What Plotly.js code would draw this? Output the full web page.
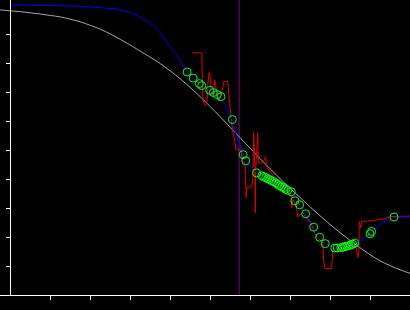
<!DOCTYPE html>
<html>
<head>
<meta charset="utf-8">
<script src="https://cdn.plot.ly/plotly-3.0.1.min.js"></script>
<style>
html,body{margin:0;padding:0;background:#000;}
#chart{width:410px;height:310px;}
</style>
</head>
<body>
<div id="chart"></div>
<script>
// Smooth reference curve (gray)
const grayX = [-0.3,-0.25,0,0.25,0.5,0.75,1,1.25,1.5,1.75,2,2.25,2.5,2.75,3,3.25,3.75,4.25,4.75,5.25,5.75,6.25,6.75,7.25,7.75,8.25,8.75,9.25,9.75,10];
const grayY = [9.84,9.83,9.80,9.77,9.73,9.69,9.64,9.59,9.51,9.42,9.30,9.17,9.00,8.82,8.62,8.41,7.98,7.46,6.84,6.15,5.42,4.70,4.01,3.36,2.73,2.15,1.63,1.18,0.87,0.75];

// Fitted curve (blue)
const blueX = [0,1.24,1.49,2.04,2.32,2.67,2.82,3.0,3.24,3.49,3.74,3.99,4.24,4.42,4.57,4.74,4.99,5.17,5.27,5.39,5.54,5.67,5.82,5.89,6.04,6.17,6.37,6.62,6.87,7.02,7.14,7.24,7.39,7.59,7.74,7.89,8.12,8.37,8.49,8.67,8.87,9.02,9.24,9.49,9.74,10];
const blueY = [10.0,9.99,9.97,9.93,9.90,9.86,9.80,9.75,9.60,9.39,9.05,8.60,8.11,7.70,7.49,7.25,7.06,6.91,6.80,6.53,6.05,5.42,4.84,4.63,4.39,4.22,4.05,3.87,3.67,3.53,3.25,3.11,2.80,2.36,2.01,1.77,1.63,1.63,1.70,1.80,1.98,2.15,2.42,2.65,2.69,2.69];

// Raw signal (red)
const redX = [4.54,4.79,4.805,4.82,4.87,4.92,4.94,4.97,4.99,5.02,5.04,5.09,5.115,5.14,5.17,5.22,5.27,5.32,5.34,5.44,5.47,5.49,5.52,5.54,5.57,5.62,5.64,5.77,5.79,5.805,5.87,5.89,5.905,5.92,6.04,6.07,6.09,6.12,6.13,6.14,6.17,6.19,6.205,6.22,6.32,6.37,6.39,6.42,6.47,6.54,6.62,6.69,6.74,6.82,6.89,6.97,7.02,7.04,7.07,7.12,7.17,7.19,7.27,7.32,7.39,7.44,7.52,7.57,7.62,7.69,7.77,7.82,7.84,7.87,8.04,8.07,8.17,8.24,8.29,8.37,8.44,8.49,8.57,8.64,8.67,8.69,8.72,8.73,8.77,8.79,8.84,8.99,9.24,9.37,9.49,9.74,10];
const redY = [8.35,8.35,7.42,6.73,6.53,6.60,7.22,7.67,7.67,7.08,6.87,7.10,7.42,7.22,6.91,6.70,6.87,7.18,7.36,7.36,7.01,6.60,6.18,5.84,5.60,5.29,5.01,5.01,4.80,4.60,4.56,3.91,3.36,3.70,3.73,4.05,5.60,4.39,2.84,4.32,5.49,5.60,4.73,4.56,4.56,4.73,4.77,4.39,4.32,4.18,4.05,3.77,3.73,3.70,3.60,3.49,3.42,3.01,3.29,3.18,2.94,2.70,2.77,2.84,2.70,2.60,2.49,2.29,2.11,1.98,1.87,1.80,1.15,0.91,0.91,1.56,1.63,1.63,1.77,1.70,1.77,1.80,1.73,1.67,1.56,1.29,1.49,2.53,2.32,2.53,2.53,2.56,2.60,2.63,2.70,2.72,2.72];

// Sample points (green)
const ptsX = [4.425,4.575,4.73,4.79,4.99,5.08,5.18,5.27,5.555,5.825,5.89,6.16,6.29,6.34,6.39,6.44,6.49,6.54,6.59,6.64,6.69,6.74,6.79,6.84,6.89,6.94,7.03,7.12,7.24,7.39,7.59,7.74,7.88,8.12,8.18,8.27,8.32,8.37,8.42,8.47,8.52,8.57,8.62,9.0,9.04,9.6];
const ptsY = [7.69,7.48,7.29,7.22,7.06,6.98,6.91,6.84,6.05,4.84,4.63,4.21,4.11,4.08,4.05,4.01,3.98,3.94,3.91,3.87,3.82,3.77,3.73,3.70,3.65,3.61,3.56,3.25,3.11,2.80,2.34,1.99,1.77,1.62,1.62,1.63,1.65,1.67,1.68,1.70,1.73,1.75,1.79,2.11,2.19,2.69];

// Vertical marker position
const markerX = [5.725];

// Tick positions
const xTicks = [1,2,3,4,5,6,7,8,9];
const yTicks = [1,2,3,4,5,6,7,8,9];

const traces = [
  {x: grayX, y: grayY, type: 'scatter', mode: 'lines', line: {color: '#a8a8a8', width: 1, shape: 'spline'}, hoverinfo: 'skip'},
  {x: redX, y: redY, type: 'scatter', mode: 'lines', line: {color: '#e00000', width: 1}, hoverinfo: 'skip'},
  {x: blueX, y: blueY, type: 'scatter', mode: 'lines', line: {color: '#0000ff', width: 1}, hoverinfo: 'skip'},
  {x: ptsX, y: ptsY, type: 'scatter', mode: 'markers', marker: {symbol: 'circle-open', size: 8, color: '#00ff00', line: {width: 1, color: '#00ff00'}}, hoverinfo: 'skip'}
];

const layout = {
  width: 410, height: 310,
  margin: {l: 0, r: 0, t: 0, b: 15, pad: 0},
  paper_bgcolor: '#000', plot_bgcolor: '#000',
  showlegend: false,
  xaxis: {
    range: [-0.2575, 10.0], showgrid: false, zeroline: false,
    showline: true, linecolor: '#ffffff', linewidth: 1,
    ticks: 'outside', ticklen: 4, tickwidth: 1, tickcolor: '#ffffff',
    tickmode: 'array', tickvals: xTicks, showticklabels: false
  },
  yaxis: {
    range: [0, 295/29], showgrid: false, zeroline: false,
    anchor: 'free', position: 10.3/410,
    showline: true, linecolor: '#ffffff', linewidth: 1,
    ticks: 'outside', ticklen: 4, tickwidth: 1, tickcolor: '#ffffff',
    tickmode: 'array', tickvals: yTicks, showticklabels: false
  },
  shapes: markerX.map(v => ({type: 'line', xref: 'x', yref: 'paper', x0: v, x1: v, y0: 0, y1: 1, line: {color: '#800080', width: 1}, layer: 'below'}))
};

Plotly.newPlot('chart', traces, layout, {staticPlot: true, displayModeBar: false});
</script>
</body>
</html>
